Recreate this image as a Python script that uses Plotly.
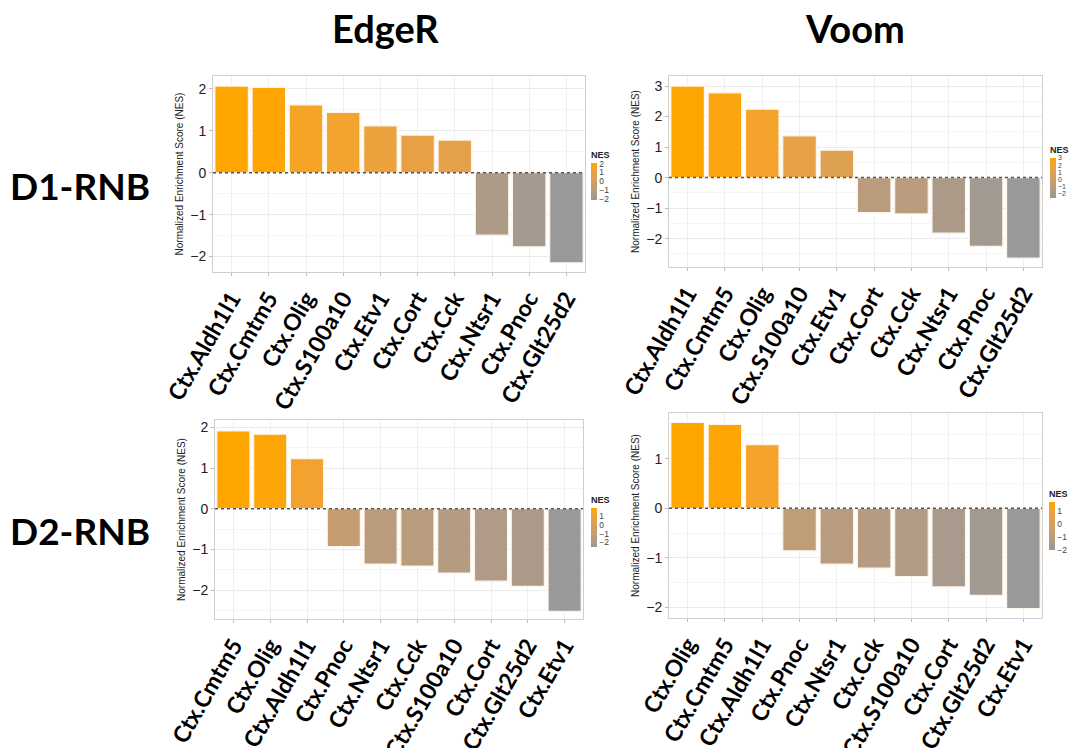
import plotly.graph_objects as go
import numpy as np

# ---------------- data ----------------
edger_d1_cats = ["Ctx.Aldh1l1", "Ctx.Cmtm5", "Ctx.Olig", "Ctx.S100a10", "Ctx.Etv1",
                 "Ctx.Cort", "Ctx.Cck", "Ctx.Ntsr1", "Ctx.Pnoc", "Ctx.Glt25d2"]
edger_d1_nes = [2.07, 2.04, 1.62, 1.44, 1.12, 0.90, 0.78, -1.49, -1.77, -2.15]

voom_d1_cats = ["Ctx.Aldh1l1", "Ctx.Cmtm5", "Ctx.Olig", "Ctx.S100a10", "Ctx.Etv1",
                "Ctx.Cort", "Ctx.Cck", "Ctx.Ntsr1", "Ctx.Pnoc", "Ctx.Glt25d2"]
voom_d1_nes = [3.00, 2.78, 2.24, 1.37, 0.90, -1.15, -1.19, -1.82, -2.25, -2.64]

edger_d2_cats = ["Ctx.Cmtm5", "Ctx.Olig", "Ctx.Aldh1l1", "Ctx.Pnoc", "Ctx.Ntsr1",
                 "Ctx.Cck", "Ctx.S100a10", "Ctx.Cort", "Ctx.Glt25d2", "Ctx.Etv1"]
edger_d2_nes = [1.91, 1.83, 1.23, -0.93, -1.36, -1.41, -1.58, -1.78, -1.91, -2.52]

voom_d2_cats = ["Ctx.Olig", "Ctx.Cmtm5", "Ctx.Aldh1l1", "Ctx.Pnoc", "Ctx.Ntsr1",
                "Ctx.Cck", "Ctx.S100a10", "Ctx.Cort", "Ctx.Glt25d2", "Ctx.Etv1"]
voom_d2_nes = [1.74, 1.70, 1.29, -0.86, -1.13, -1.21, -1.38, -1.59, -1.76, -2.03]

column_titles = ["EdgeR", "Voom"]
row_titles = ["D1-RNB", "D2-RNB"]
y_title = "Normalized Enrichment Score (NES)"

# ---------------- colour scale (Lab interpolation grey60 -> orange) ----------------
def srgb_to_lab(rgb):
    c = np.array(rgb) / 255.0
    c = np.where(c <= 0.04045, c / 12.92, ((c + 0.055) / 1.055) ** 2.4)
    M = np.array([[0.4124, 0.3576, 0.1805], [0.2126, 0.7152, 0.0722], [0.0193, 0.1192, 0.9505]])
    xyz = M @ c
    xyz = xyz / np.array([0.95047, 1.0, 1.08883])
    f = np.where(xyz > 0.008856, np.cbrt(xyz), 7.787 * xyz + 16 / 116)
    return np.array([116 * f[1] - 16, 500 * (f[0] - f[1]), 200 * (f[1] - f[2])])

def lab_to_srgb(lab):
    L, a, b = lab
    fy = (L + 16) / 116
    fx = fy + a / 500
    fz = fy - b / 200
    f = np.array([fx, fy, fz])
    xyz = np.where(f ** 3 > 0.008856, f ** 3, (f - 16 / 116) / 7.787)
    xyz = xyz * np.array([0.95047, 1.0, 1.08883])
    Minv = np.array([[3.2406, -1.5372, -0.4986], [-0.9689, 1.8758, 0.0415], [0.0557, -0.2040, 1.0570]])
    c = Minv @ xyz
    c = np.where(c <= 0.0031308, 12.92 * c, 1.055 * np.clip(c, 0, None) ** (1 / 2.4) - 0.055)
    c = np.clip(c, 0, 1) * 255
    return "rgb(%d,%d,%d)" % tuple(np.round(c).astype(int))

low = srgb_to_lab((153, 153, 153))
high = srgb_to_lab((255, 165, 0))
colorscale = [[t, lab_to_srgb(low + (high - low) * t)] for t in np.linspace(0, 1, 11)]

# ---------------- layout geometry (pixels) ----------------
W, H = 1078, 748
panels = [
    (edger_d1_cats, edger_d1_nes, (213, 585, 76, 272), [-2.37, 2.31], [-2, -1, 0, 1, 2], (591, 148, 200, 8.5), [-2, -1, 0, 1, 2]),
    (voom_d1_cats, voom_d1_nes, (669, 1042, 76, 267), [-2.93, 3.33], [-2, -1, 0, 1, 2, 3], (1050, 143, 198, 7), [-2, -1, 0, 1, 2, 3]),
    (edger_d2_cats, edger_d2_nes, (215, 583, 420, 619), [-2.71, 2.18], [-2, -1, 0, 1, 2], (591, 493, 547, 8.5), [-2, -1, 0, 1]),
    (voom_d2_cats, voom_d2_nes, (669, 1042, 413, 618), [-2.22, 1.93], [-2, -1, 0, 1], (1049, 487, 550, 8.5), [-2, -1, 0, 1]),
]

fig = go.Figure()
layout = dict(
    width=W, height=H, margin=dict(l=0, r=0, t=0, b=0, autoexpand=False),
    paper_bgcolor="white", plot_bgcolor="white", showlegend=False,
    font=dict(family="Liberation Sans, Arial", color="#333333"),
)
shapes = []
annotations = []

for i, (cats, vals, (x0, x1, yt, yb), yr, yticks, (cbx, cbt, cbb, cbfs), cbticks) in enumerate(panels):
    n = i + 1
    xa = "xaxis" if n == 1 else f"xaxis{n}"
    ya = "yaxis" if n == 1 else f"yaxis{n}"
    xref = "x" if n == 1 else f"x{n}"
    yref = "y" if n == 1 else f"y{n}"
    fig.add_trace(go.Bar(
        x=cats, y=vals, xaxis=xref, yaxis=yref, width=0.9,
        marker=dict(
            color=vals, colorscale=colorscale, cmin=min(vals), cmax=max(vals),
            line=dict(color="rgb(255,244,232)", width=1.2),
            showscale=True,
            colorbar=dict(
                title=dict(text="<b>NES</b>", side="top", font=dict(size=9, color="#222222")),
                thickness=6, thicknessmode="pixels",
                len=cbb - cbt, lenmode="pixels",
                x=cbx / W, xanchor="left", xpad=0,
                y=1 - (cbt + cbb) / 2 / H, yanchor="middle", ypad=0,
                outlinewidth=0, ticks="", tickvals=cbticks,
                tickfont=dict(size=cbfs, color="#444444"),
            ),
        ),
        hoverinfo="x+y",
    ))
    layout[xa] = dict(
        domain=[x0 / W, x1 / W], anchor=yref, type="category",
        showgrid=True, gridcolor="#EFEFEF", gridwidth=1,
        showline=True, linecolor="#CFCFCF", linewidth=1, mirror=True,
        ticks="outside", ticklen=3, tickcolor="#BBBBBB",
        tickangle=-60, tickfont=dict(family="Lato", size=23, color="black", weight="bold"),
        zeroline=False, fixedrange=True, automargin=False,
    )
    layout[ya] = dict(
        domain=[1 - yb / H, 1 - yt / H], anchor=xref, range=yr,
        tickvals=yticks, showgrid=True, gridcolor="#EBEBEB", gridwidth=1,
        minor=dict(dtick=0.5, showgrid=True, gridcolor="#F5F5F5", gridwidth=1),
        showline=True, linecolor="#CFCFCF", linewidth=1, mirror=True,
        ticks="outside", ticklen=3, tickcolor="#BBBBBB",
        tickfont=dict(size=14, color="#222222"),
        title=dict(text=y_title, font=dict(size=10, color="#222222"), standoff=4),
        zeroline=False, automargin=False,
    )
    shapes.append(dict(
        type="line", xref=f"{xref} domain", yref=yref, x0=0, x1=1, y0=0, y1=0,
        line=dict(color="#555555", width=1.5, dash="dot"), layer="above",
    ))

# column and row titles
for txt, xc in zip(column_titles, [385, 855]):
    annotations.append(dict(text=f"<b>{txt}</b>", x=xc / W, y=1 - 28 / H, xref="paper", yref="paper",
                            showarrow=False, font=dict(family="Lato", size=38, color="black"),
                            xanchor="center", yanchor="middle"))
for txt, yc in zip(row_titles, [185, 530]):
    annotations.append(dict(text=f"<b>{txt}</b>", x=80 / W, y=1 - yc / H, xref="paper", yref="paper",
                            showarrow=False, font=dict(family="Lato", size=37, color="black"),
                            xanchor="center", yanchor="middle"))

layout["shapes"] = shapes
layout["annotations"] = annotations
fig.update_layout(**layout)
fig.write_html(
    "out.html",
    config={"displayModeBar": False},
    post_script="document.body.style.margin='0';document.body.style.overflow='hidden';",
)
